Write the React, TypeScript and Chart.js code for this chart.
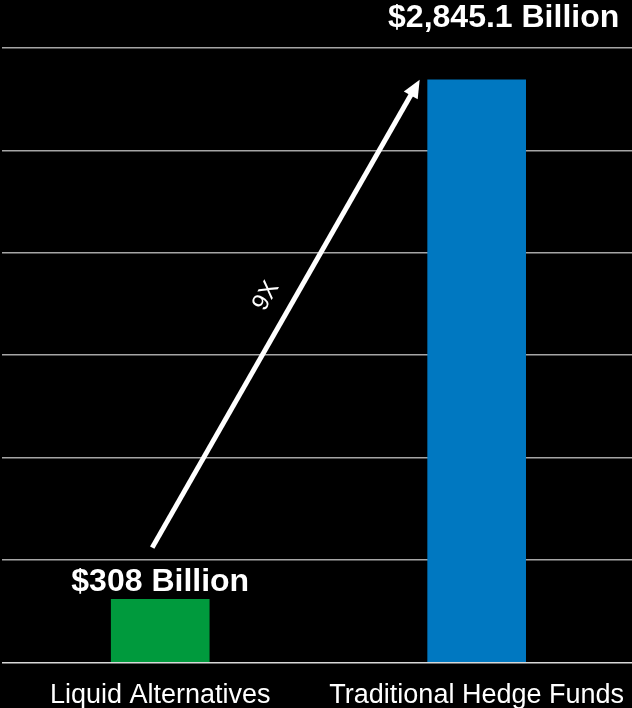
import React, { useEffect, useRef } from 'react';
import { Chart, registerables } from 'chart.js';

Chart.register(...registerables);

const categories = ['Liquid Alternatives', 'Traditional Hedge Funds'];
const values = [308, 2845.1];
const valueLabels = ['$308 Billion', '$2,845.1 Billion'];
const barColors = ['#009A3D', '#0078C1'];
const yMin = 0;
const yMax = 3000;
const yStep = 500;
const arrowLabel = '9X';
const arrowStartValue = 560;

const FONT = '"Liberation Sans", Arial, sans-serif';

const annotationPlugin = {
  id: 'annotations',
  afterDatasetsDraw(chart: any) {
    const ctx = chart.ctx;
    const meta = chart.getDatasetMeta(0);
    const yScale = chart.scales.y;
    const b0 = meta.data[0];
    const b1 = meta.data[1];
    ctx.save();
    // value labels
    ctx.fillStyle = '#ffffff';
    ctx.font = `bold 32px ${FONT}`;
    ctx.textAlign = 'center';
    ctx.textBaseline = 'middle';
    ctx.fillText(valueLabels[0], b0.x, b0.y - 17);
    ctx.fillText(valueLabels[1], b1.x + 27, b1.y - 62);

    // arrow
    const sx = b0.x - 8;
    const sy = yScale.getPixelForValue(arrowStartValue);
    const ex = b1.x - b1.width / 2 - 8;
    const ey = b1.y;
    const ang = Math.atan2(ey - sy, ex - sx);
    const headLen = 18;
    const headW = 8;
    const bx = ex - headLen * Math.cos(ang);
    const by = ey - headLen * Math.sin(ang);
    ctx.strokeStyle = '#ffffff';
    ctx.lineWidth = 5;
    ctx.lineCap = 'butt';
    ctx.beginPath();
    ctx.moveTo(sx, sy);
    ctx.lineTo(bx + 2 * Math.cos(ang), by + 2 * Math.sin(ang));
    ctx.stroke();
    ctx.fillStyle = '#ffffff';
    ctx.beginPath();
    ctx.moveTo(ex, ey);
    ctx.lineTo(bx + headW * Math.sin(ang), by - headW * Math.cos(ang));
    ctx.lineTo(bx - headW * Math.sin(ang), by + headW * Math.cos(ang));
    ctx.closePath();
    ctx.fill();

    // arrow label
    const t = 0.51;
    const px = sx + (ex - sx) * t;
    const py = sy + (ey - sy) * t;
    const off = 26;
    const nx = Math.sin(ang) * off;
    const ny = -Math.cos(ang) * off;
    ctx.translate(px + nx, py + ny);
    ctx.rotate(ang);
    ctx.font = `24px ${FONT}`;
    ctx.textAlign = 'center';
    ctx.textBaseline = 'middle';
    ctx.fillText(arrowLabel, 0, 0);
    ctx.restore();
  },
};

export default function App() {
  const canvasRef = useRef<HTMLCanvasElement>(null);

  useEffect(() => {
    document.body.style.margin = '0';
    document.body.style.background = '#000';
    const chart = new Chart(canvasRef.current as HTMLCanvasElement, {
      type: 'bar',
      data: {
        labels: categories,
        datasets: [
          {
            data: values,
            backgroundColor: barColors,
            borderWidth: 0,
            barThickness: 98,
          },
        ],
      },
      options: {
        animation: false,
        responsive: false,
        maintainAspectRatio: false,
        layout: { padding: { top: 48, left: 2, right: 0, bottom: 0 } },
        plugins: {
          legend: { display: false },
          tooltip: { enabled: false },
        },
        scales: {
          x: {
            grid: { display: false, drawTicks: false },
            border: { display: false },
            ticks: {
              color: '#ffffff',
              font: { family: FONT, size: 27, lineHeight: 1.1 },
              padding: 18,
              maxRotation: 0,
              autoSkip: false,
            },
          },
          y: {
            min: yMin,
            max: yMax,
            grid: {
              drawTicks: false,
              lineWidth: 1.5,
              color: (c: any) => (c.tick && c.tick.value === 0 ? '#d9d9d9' : '#a6a6a6'),
            },
            border: { display: false },
            ticks: { display: false, stepSize: yStep },
          },
        },
      },
      plugins: [annotationPlugin],
    });
    return () => chart.destroy();
  }, []);

  return (
    <div style={{ position: 'fixed', left: 0, top: 0, width: 632, height: 708, overflow: 'hidden', background: '#000' }}>
      <canvas ref={canvasRef} width={642} height={728} style={{ display: 'block' }} />
    </div>
  );
}
